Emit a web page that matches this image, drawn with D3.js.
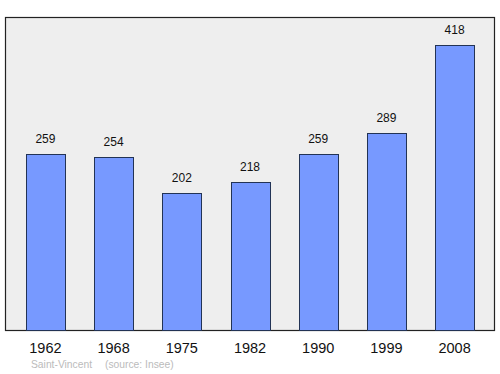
<!DOCTYPE html>
<html><head><meta charset="utf-8">
<script src="https://cdn.jsdelivr.net/npm/d3@7"></script>
<style>body{margin:0;background:#fff}</style>
</head><body>
<svg id="c" width="500" height="374"></svg>
<script>
const years = ["1962","1968","1975","1982","1990","1999","2008"];
const population = [259,254,202,218,259,289,418];
const sourceText = ["Saint-Vincent", "(source: Insee)"];

(function(){
const svg = d3.select("#c");
const pLeft = 5.5, pRight = 494.5, pTop = 17.5, pBottom = 330.5;
const x = d3.scaleBand().domain(years).range([pLeft, pRight]).paddingInner(0.43).paddingOuter(0.3);
const y = d3.scaleLinear().domain([0, 459]).range([pBottom, pTop]);

svg.append("rect").attr("x", pLeft).attr("y", pTop).attr("width", pRight-pLeft).attr("height", pBottom-pTop)
  .attr("fill", "#eeeeee").attr("stroke", "#222").attr("stroke-width", 1.2);

svg.selectAll(".bar").data(years).enter().append("rect")
  .attr("x", d => Math.round(x(d)) + 0.5)
  .attr("y", (d,i) => Math.round(y(population[i])) + 0.5)
  .attr("width", Math.round(x.bandwidth()))
  .attr("height", (d,i) => pBottom - Math.round(y(population[i])) - 0.5)
  .attr("fill", "#7799ff").attr("stroke", "#223355").attr("stroke-width", 1);

svg.selectAll(".val").data(years).enter().append("text")
  .attr("x", d => x(d) + x.bandwidth()/2)
  .attr("y", (d,i) => y(population[i]) - 11)
  .attr("text-anchor", "middle").attr("font-family", "Liberation Sans, Arial, sans-serif")
  .attr("font-size", 12).attr("fill", "#111")
  .text((d,i) => population[i]);

const xAxis = svg.append("g").attr("transform", `translate(0,${pBottom})`)
  .call(d3.axisBottom(x).tickSize(0).tickPadding(0));
xAxis.select(".domain").remove();
xAxis.selectAll("text").attr("dy", null).attr("y", 22.5)
  .attr("font-family", "Liberation Sans, Arial, sans-serif").attr("font-size", 14.5).attr("fill", "#111");

svg.selectAll(".src").data(sourceText).enter().append("text")
  .attr("x", (d,i) => i === 0 ? 31 : 105).attr("y", 368)
  .attr("font-family", "Liberation Sans, Arial, sans-serif")
  .attr("font-size", 10.3).attr("fill", "#bbbbbb")
  .text(d => d);
})();
</script>
</body></html>
